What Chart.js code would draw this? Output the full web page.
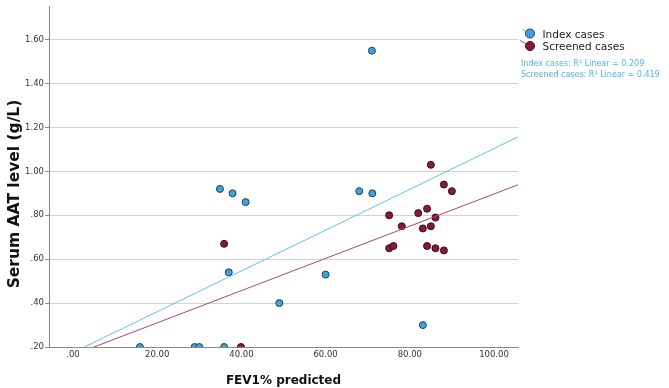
<!DOCTYPE html>
<html>
<head>
<meta charset="utf-8">
<script src="https://cdn.jsdelivr.net/npm/chart.js@4/dist/chart.umd.min.js"></script>
<style>
  body { margin: 0; background: #fff; }
  #wrap { position: relative; width: 669px; height: 388px; overflow: hidden; }
  #c { position: absolute; left: 0; top: 0; }
  .txt { position: absolute; white-space: nowrap; font-family: "DejaVu Sans", sans-serif; }
  #ytitle { left: 14px; top: 194px; transform: translate(-50%, -50%) rotate(-90deg); font-weight: bold; font-size: 15.5px; color: #111; }
  .leg { font-size: 10.5px; color: #222; transform: translateY(-50%); }
  .r2 { font-size: 8px; color: #4cb6e8; transform: translateY(-50%); }
  #marks { position: absolute; left: 0; top: 0; }
</style>
</head>
<body>
<div id="wrap">
  <canvas id="c" width="669" height="388"></canvas>
  <div class="txt" id="ytitle">Serum AAT level (g/L)</div>
  <svg id="marks" width="669" height="388">
    <line x1="522.5" y1="29" x2="529" y2="33" stroke="#5cc3f0" stroke-width="1"/>
    <circle cx="530" cy="33.5" r="4.5" fill="#3ea3dc" stroke="#1f3e5c" stroke-width="1"/>
    <line x1="520" y1="40.5" x2="528" y2="45" stroke="#b0476b" stroke-width="1"/>
    <circle cx="530" cy="46" r="4.5" fill="#861a3e" stroke="#3a0a1a" stroke-width="1"/>
  </svg>
  <div class="txt leg" style="left:542.5px; top:34px;">Index cases</div>
  <div class="txt leg" style="left:542.5px; top:46px;">Screened cases</div>
  <div class="txt r2" style="left:521px; top:62.7px;">Index cases: R² Linear = 0.209</div>
  <div class="txt r2" style="left:521px; top:74px;">Screened cases: R² Linear = 0.419</div>
</div>
<script>
// FEV1% predicted vs serum AAT level
const indexX = [15.9, 28.9, 30.0, 35.9, 34.9, 37.9, 41.0, 37.0, 49.0, 60.0, 68.0, 71.1, 71.0, 83.1];
const indexY = [0.20, 0.20, 0.20, 0.20, 0.92, 0.90, 0.86, 0.54, 0.40, 0.53, 0.91, 0.90, 1.55, 0.30];

const screenedX = [35.9, 39.9, 85.0, 88.1, 90.0, 84.1, 82.0, 75.1, 86.1, 78.1, 85.0, 83.1, 75.1, 76.1, 84.1, 86.1, 88.1];
const screenedY = [0.67, 0.20, 1.03, 0.94, 0.91, 0.83, 0.81, 0.80, 0.79, 0.75, 0.75, 0.74, 0.65, 0.66, 0.66, 0.65, 0.64];

// fit lines (R² linear), ends
const indexFitX = [2.7, 105.7];
const indexFitY = [0.20, 1.157];
const screenedFitX = [5.0, 105.7];
const screenedFitY = [0.20, 0.939];

const xTicks = [0, 20, 40, 60, 80, 100];
const yTicks = [0.2, 0.4, 0.6, 0.8, 1.0, 1.2, 1.4, 1.6];

const pts = (xs, ys) => xs.map((x, i) => ({x: x, y: ys[i]}));
const fmt = v => { let s = Number(v).toFixed(2); return s.startsWith("0.") ? s.slice(1) : s; };

const tickFont = {family: "DejaVu Sans", size: 8.5};

new Chart(document.getElementById("c"), {
    type: "scatter",
    data: {
        datasets: [
            {
                type: "line",
                data: pts(indexFitX, indexFitY),
                borderColor: "#5cc3f0",
                borderWidth: 1,
                pointRadius: 0,
                fill: false,
                clip: 0,
                order: 0
            },
            {
                type: "line",
                data: pts(screenedFitX, screenedFitY),
                borderColor: "#b0476b",
                borderWidth: 1,
                pointRadius: 0,
                fill: false,
                clip: 0,
                order: 0
            },
            {
                label: "Index cases",
                data: pts(indexX, indexY),
                backgroundColor: "#3ea3dc",
                borderColor: "#1f3e5c",
                borderWidth: 1,
                pointRadius: 3.5,
                clip: 0,
                order: 1
            },
            {
                label: "Screened cases",
                data: pts(screenedX, screenedY),
                backgroundColor: "#861a3e",
                borderColor: "#3a0a1a",
                borderWidth: 1,
                pointRadius: 3.5,
                clip: 0,
                order: 1
            }
        ]
    },
    options: {
        responsive: false,
        animation: false,
        layout: { padding: { left: 0, right: 151, top: 3, bottom: 0 } },
        plugins: { legend: { display: false }, tooltip: { enabled: false } },
        scales: {
            x: {
                type: "linear",
                min: -5.7,
                max: 105.7,
                afterBuildTicks: s => { s.ticks = xTicks.map(v => ({value: v})); },
                afterFit: s => { s.height = 41; },
                grid: { display: false, drawTicks: false },
                border: { color: "#8a8a8a", width: 1 },
                ticks: { font: tickFont, color: "#333", padding: 3, maxRotation: 0, callback: v => fmt(v) },
                title: {
                    display: true,
                    text: "FEV1% predicted",
                    font: {family: "DejaVu Sans", size: 12, weight: "bold"},
                    color: "#111",
                    padding: {top: 1, bottom: 0}
                }
            },
            y: {
                type: "linear",
                min: 0.2,
                max: 1.753,
                afterBuildTicks: s => { s.ticks = yTicks.map(v => ({value: v})); },
                afterFit: s => { s.width = 49; },
                grid: { color: "#d2d2d2", lineWidth: 1, drawTicks: true, tickLength: 4, tickColor: "#8a8a8a" },
                border: { color: "#8a8a8a", width: 1 },
                ticks: { font: tickFont, color: "#333", padding: 1, callback: v => fmt(v) }
            }
        }
    }
});
</script>
</body>
</html>
